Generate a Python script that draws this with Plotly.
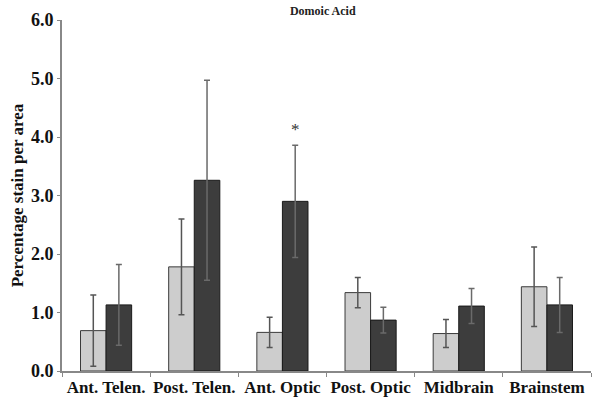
import plotly.graph_objects as go

categories = ["Ant. Telen.", "Post. Telen.", "Ant. Optic", "Post. Optic", "Midbrain", "Brainstem"]
control_vals = [0.69, 1.78, 0.66, 1.34, 0.64, 1.44]
control_err = [0.61, 0.82, 0.26, 0.26, 0.24, 0.68]
domoic_vals = [1.13, 3.26, 2.90, 0.87, 1.11, 1.13]
domoic_err = [0.69, 1.71, 0.96, 0.22, 0.30, 0.47]
y_ticks = [0, 1, 2, 3, 4, 5, 6]
y_tick_labels = ["0.0", "1.0", "2.0", "3.0", "4.0", "5.0", "6.0"]

FONT = "Liberation Serif, Times New Roman, serif"

fig = go.Figure()
fig.add_trace(go.Bar(
    x=categories, y=control_vals, name="Control",
    marker=dict(color="#cdcdcd", line=dict(color="#3a3a3a", width=1)),
    error_y=dict(type="data", array=control_err, visible=True,
                 color="#555555", thickness=1.5, width=3),
))
fig.add_trace(go.Bar(
    x=categories, y=domoic_vals, name="Domoic Acid",
    marker=dict(color="#3d3d3d", line=dict(color="#1a1a1a", width=1)),
    error_y=dict(type="data", array=domoic_err, visible=True,
                 color="#6a6a6a", thickness=1.5, width=3),
))

sig_idx = 2
fig.add_annotation(
    x=categories[sig_idx], y=domoic_vals[sig_idx] + domoic_err[sig_idx],
    text="*", showarrow=False, xshift=13, yshift=16,
    font=dict(family=FONT, size=17, color="#333333"),
)

fig.update_layout(
    width=600, height=403,
    margin=dict(l=62, r=9, t=20, b=32, autoexpand=False),
    paper_bgcolor="white", plot_bgcolor="white",
    barmode="group", bargap=0.42, bargroupgap=0,
    showlegend=False,
    title=dict(text="<b>Domoic Acid</b>", x=0.493, xanchor="center",
               xref="paper", yref="container", y=0.972, yanchor="middle",
               font=dict(family=FONT, size=12, color="#222222")),
    font=dict(family=FONT, color="#111111"),
)
fig.update_xaxes(
    showgrid=False, showline=True, linecolor="#888888", linewidth=2,
    ticks="outside", tickson="boundaries", ticklen=4, tickcolor="#888888",
    tickangle=0, automargin=False,
    tickfont=dict(family=FONT, size=17, color="#111111"),
    tickprefix="<b>", ticksuffix="</b>",
)
fig.update_yaxes(
    range=[0, 6], showgrid=False, zeroline=False,
    showline=True, linecolor="#888888", linewidth=2,
    ticks="outside", ticklen=3, tickcolor="#888888", automargin=False,
    tickvals=y_ticks, ticktext=["<b>%s</b>" % t for t in y_tick_labels],
    tickfont=dict(family=FONT, size=18, color="#111111"),
    title=dict(text="<b>Percentage stain per area</b>", standoff=3,
               font=dict(family=FONT, size=17, color="#111111")),
)

# remove the browser's default 8px body margin so the figure fills the window
fig.write_html("out.html", config={"displayModeBar": False},
               post_script="document.body.style.margin='0';")
